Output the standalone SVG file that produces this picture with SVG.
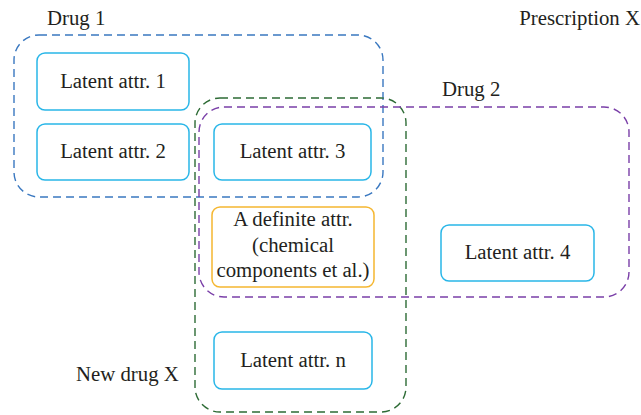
<svg xmlns="http://www.w3.org/2000/svg" width="641" height="415" viewBox="0 0 641 415">
<style>
text{font-family:"Liberation Serif","Times New Roman",serif;font-size:20.8px;fill:#231f20}
.c{text-anchor:middle}
.node{fill:#fff;stroke:#29b6e8;stroke-width:1.5}
.def{fill:#fff;stroke:#f5b731;stroke-width:1.5}
.grp{fill:none;stroke-width:1.4;stroke-dasharray:8 5}
</style>
<rect width="641" height="415" fill="#fff"/>
<g id="groups">
<rect id="drug1" class="grp" x="14" y="35" width="369" height="162" rx="25" stroke="#3a78c0"/>
<rect id="newdrugx" class="grp" x="195" y="98" width="211" height="314" rx="25" stroke="#2d6b35"/>
<rect id="drug2" class="grp" x="199" y="107" width="430" height="190" rx="25" stroke="#7a3fa8"/>
</g>
<g id="labels">
<text x="47" y="25">Drug 1</text>
<text x="640" y="25" text-anchor="end">Prescription X</text>
<text x="442" y="96">Drug 2</text>
<text x="76" y="381">New drug X</text>
</g>
<g id="n1"><rect class="node" x="37" y="53" width="152" height="57" rx="8"/><text class="c" x="113" y="88">Latent attr. 1</text></g>
<g id="n2"><rect class="node" x="37" y="124" width="152" height="56" rx="8"/><text class="c" x="113" y="158">Latent attr. 2</text></g>
<g id="n3"><rect class="node" x="214" y="124" width="157" height="56" rx="8"/><text class="c" x="292.5" y="158">Latent attr. 3</text></g>
<g id="ndef"><rect class="def" x="212" y="207" width="162" height="80" rx="8"/>
<text class="c" x="293" y="226">A definite attr.</text>
<text class="c" x="293" y="252">(chemical</text>
<text class="c" x="293" y="277">components et al.)</text></g>
<g id="n4"><rect class="node" x="441" y="225" width="153" height="56" rx="8"/><text class="c" x="517.5" y="259">Latent attr. 4</text></g>
<g id="nn"><rect class="node" x="214" y="332" width="158" height="57" rx="8"/><text class="c" x="293" y="367">Latent attr. n</text></g>
<g id="connectors"></g>
</svg>
